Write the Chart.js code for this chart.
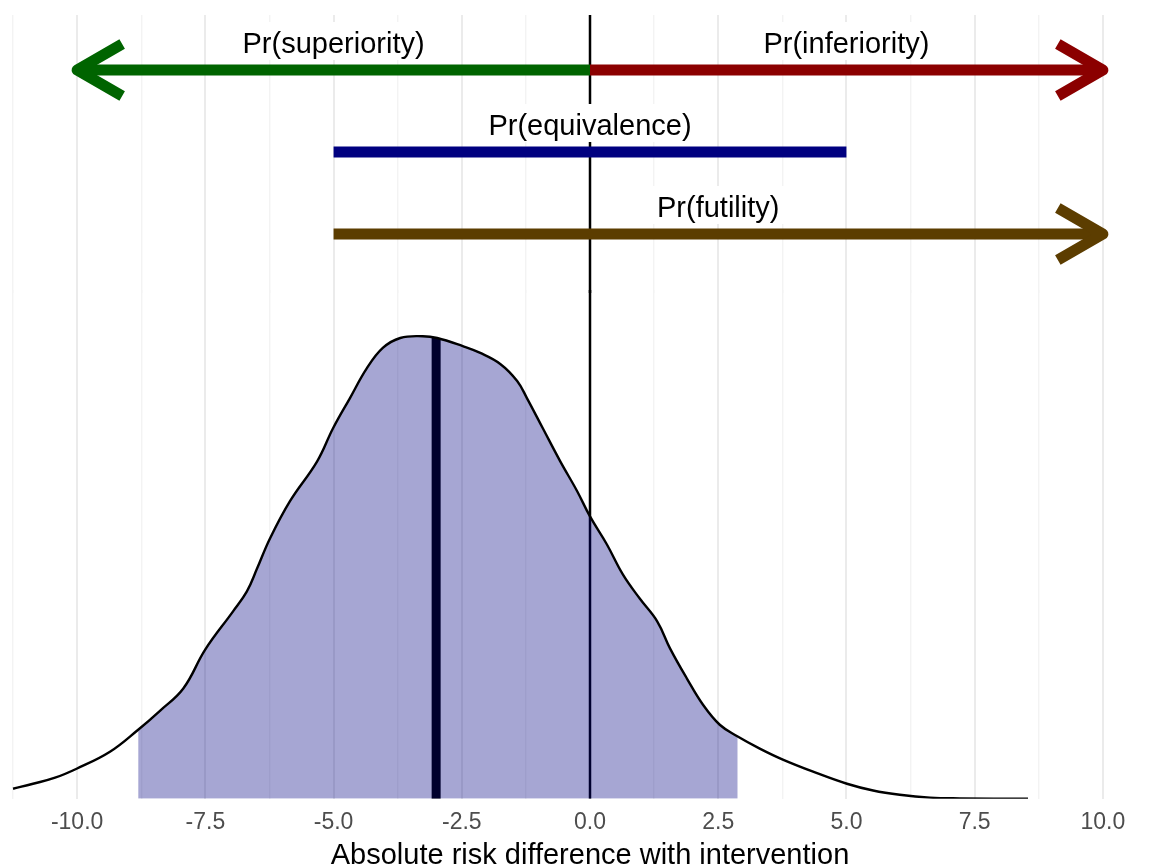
<!DOCTYPE html>
<html>
<head>
<meta charset="utf-8">
<script src="https://cdn.jsdelivr.net/npm/chart.js@4.4.1/dist/chart.umd.min.js"></script>
<style>
  html, body { margin: 0; padding: 0; background: #fff; overflow: hidden; }
  #wrap { position: relative; width: 1155px; height: 864px; overflow: hidden; }
  #topChart { position: absolute; left: 0; top: 0; }
  #densChart { position: absolute; left: 0; top: 290px; }
</style>
</head>
<body>
<div id="wrap">
  <canvas id="topChart" width="1180" height="300"></canvas>
  <canvas id="densChart" width="1180" height="580"></canvas>
</div>
<script>
// ---------- data ----------
const xMin = -11.27, xMax = 11.27;
const majorTicks = [-10, -7.5, -5, -2.5, 0, 2.5, 5, 7.5, 10];
const minorTicks = [-11.25, -8.75, -6.25, -3.75, -1.25, 1.25, 3.75, 6.25, 8.75];
const xTitle = 'Absolute risk difference with intervention';

// probability arrows (top panel)
const arrowLabels = ['Pr(superiority)', 'Pr(inferiority)', 'Pr(equivalence)', 'Pr(futility)'];
const arrowFrom = [0, 0, -5, -5];
const arrowTo = [-10, 10, 5, 10];
const arrowRow = [3, 3, 2, 1];
const arrowHead = [true, true, false, true];
const arrowColors = ['#006400', '#8b0000', '#000080', '#5c3d00'];
const labelX = [-5, 5, 0, 2.5];
const topYMin = 0.28, topYMax = 3.671;

// posterior density of the risk difference (bottom panel)
const densX = [-11.25, -10.86, -10.43, -10.00, -9.36, -8.81, -8.38, -7.93, -7.50, -6.96,
  -6.69, -6.49, -6.24, -5.85, -5.32, -5.01, -4.68, -4.35, -4.04, -3.70,
  -3.26, -2.98, -2.48, -2.14, -1.75, -1.42, -1.23, -0.92, -0.58, -0.25,
  0.00, 0.33, 0.64, 0.97, 1.31, 1.56, 1.89, 2.20, 2.53, 2.88,
  3.31, 3.76, 4.35, 5.01, 5.52, 6.04, 6.63, 7.21, 8.54];
const densY = [0.0028, 0.0042, 0.0059, 0.0085, 0.0132, 0.0194, 0.0248, 0.0310, 0.0420, 0.0527,
  0.0583, 0.0648, 0.0732, 0.0837, 0.0949, 0.1042, 0.1127, 0.1211, 0.1268, 0.1296,
  0.1301, 0.1296, 0.1273, 0.1254, 0.1223, 0.1175, 0.1127, 0.1042, 0.0949, 0.0865,
  0.0794, 0.0715, 0.0631, 0.0563, 0.0499, 0.0423, 0.0338, 0.0265, 0.0208, 0.0175,
  0.0141, 0.0110, 0.0076, 0.0042, 0.0023, 0.0011, 0.0003, 0.0001, 0.0000];
const shadeFrom = -8.81, shadeTo = 2.88;   // 95% interval
const medianX = -3.0, medianTop = 0.1296;
const densYMax = 0.1431;

// ---------- helpers ----------
const FONT = "'Liberation Sans', Arial, sans-serif";
Chart.defaults.font.family = FONT;
const isMajor = v => majorTicks.includes(v);
const gridTicks = [...minorTicks, ...majorTicks].sort((a, b) => a - b);

function xAxis(showLabels) {
    return {
        type: 'linear',
        min: xMin,
        max: xMax,
        afterBuildTicks: axis => { axis.ticks = gridTicks.map(v => ({ value: v })); },
        grid: {
            color: c => isMajor(c.tick.value) ? '#ebebeb' : '#f3f3f3',
            lineWidth: c => isMajor(c.tick.value) ? 2 : 1.4,
            drawTicks: false
        },
        border: { display: false },
        ticks: {
            display: showLabels,
            autoSkip: false,
            maxRotation: 0,
            padding: 11,
            color: '#4d4d4d',
            font: { size: 23, lineHeight: 1.1 },
            callback: v => isMajor(v) ? v.toFixed(1) : ''
        }
    };
}

// chevron heads + labels for the top panel
const arrowPlugin = {
    id: 'arrowPlugin',
    afterDatasetsDraw(chart) {
        const ctx = chart.ctx;
        const xs = chart.scales.x, ys = chart.scales.y;
        chart.data.datasets.forEach((ds, i) => {
            if (!ds.arrowEnd) return;
            const pts = chart.getDatasetMeta(i).data;
            const tip = pts[pts.length - 1], prev = pts[pts.length - 2];
            const dir = Math.sign(tip.x - prev.x);
            const len = 52, ang = Math.PI / 6;
            ctx.save();
            ctx.strokeStyle = ds.borderColor;
            ctx.lineWidth = ds.borderWidth;
            ctx.lineJoin = 'round';
            ctx.lineCap = 'butt';
            ctx.beginPath();
            ctx.moveTo(tip.x - dir * len * Math.cos(ang), tip.y - len * Math.sin(ang));
            ctx.lineTo(tip.x, tip.y);
            ctx.lineTo(tip.x - dir * len * Math.cos(ang), tip.y + len * Math.sin(ang));
            ctx.stroke();
            ctx.restore();
        });
        ctx.save();
        ctx.font = '29px ' + FONT;
        ctx.textAlign = 'center';
        ctx.textBaseline = 'alphabetic';
        arrowLabels.forEach((t, i) => {
            const px = xs.getPixelForValue(labelX[i]);
            const base = ys.getPixelForValue(arrowRow[i]) - 17;
            const w = ctx.measureText(t).width;
            ctx.fillStyle = '#fff';
            ctx.fillRect(px - w / 2 - 5, base - 31, w + 10, 38);
            ctx.fillStyle = '#000';
            ctx.fillText(t, px, base);
        });
        ctx.restore();
    }
};

// x axis title, centred under the panel
const titlePlugin = {
    id: 'titlePlugin',
    afterDraw(chart) {
        const ctx = chart.ctx, a = chart.chartArea;
        ctx.save();
        ctx.font = '29px ' + FONT;
        ctx.fillStyle = '#000';
        ctx.textAlign = 'center';
        ctx.textBaseline = 'alphabetic';
        ctx.fillText(xTitle, (a.left + a.right) / 2, a.bottom + 65);
        ctx.restore();
    }
};

// ---------- top panel: probability arrows ----------
const arrowSets = arrowLabels.map((lab, i) => ({
    label: lab,
    data: [{ x: arrowFrom[i], y: arrowRow[i] }, { x: arrowTo[i], y: arrowRow[i] }],
    borderColor: arrowColors[i],
    borderWidth: 11,
    borderCapStyle: 'butt',
    pointRadius: 0,
    arrowEnd: arrowHead[i]
}));
arrowSets.push({
    label: 'zero',
    data: [{ x: 0, y: topYMin }, { x: 0, y: topYMax }],
    borderColor: '#000',
    borderWidth: 2.5,
    pointRadius: 0
});

new Chart(document.getElementById('topChart'), {
    type: 'line',
    data: { datasets: arrowSets },
    options: {
        responsive: false,
        animation: false,
        devicePixelRatio: 1,
        layout: { padding: { left: 12, right: 12, top: 15, bottom: 7 } },
        plugins: { legend: { display: false }, tooltip: { enabled: false } },
        scales: {
            x: xAxis(false),
            y: { display: false, min: topYMin, max: topYMax }
        }
    },
    plugins: [arrowPlugin]
});

// ---------- bottom panel: density ----------
const curve = densX.map((x, i) => ({ x: x, y: densY[i] }));
const shaded = curve.filter(p => p.x >= shadeFrom && p.x <= shadeTo);

new Chart(document.getElementById('densChart'), {
    type: 'line',
    data: {
        datasets: [
            {   // outline
                data: curve,
                borderColor: '#000',
                borderWidth: 2.4,
                pointRadius: 0,
                tension: 0.4,
                fill: false
            },
            {   // interval shading
                data: shaded,
                borderWidth: 0,
                pointRadius: 0,
                tension: 0.4,
                backgroundColor: 'rgba(0, 0, 128, 0.35)',
                fill: 'origin'
            },
            {   // median
                data: [{ x: medianX, y: 0 }, { x: medianX, y: medianTop }],
                borderColor: '#000',
                borderWidth: 9,
                borderCapStyle: 'butt',
                pointRadius: 0
            },
            {   // zero line
                data: [{ x: 0, y: 0 }, { x: 0, y: densYMax }],
                borderColor: '#000',
                borderWidth: 2.5,
                pointRadius: 0
            }
        ]
    },
    options: {
        responsive: false,
        animation: false,
        devicePixelRatio: 1,
        layout: { padding: { left: 12, right: 12, top: 0, bottom: 24 } },
        plugins: { legend: { display: false }, tooltip: { enabled: false } },
        scales: {
            x: xAxis(true),
            y: { display: false, min: 0, max: densYMax }
        }
    },
    plugins: [titlePlugin]
});
</script>
</body>
</html>
